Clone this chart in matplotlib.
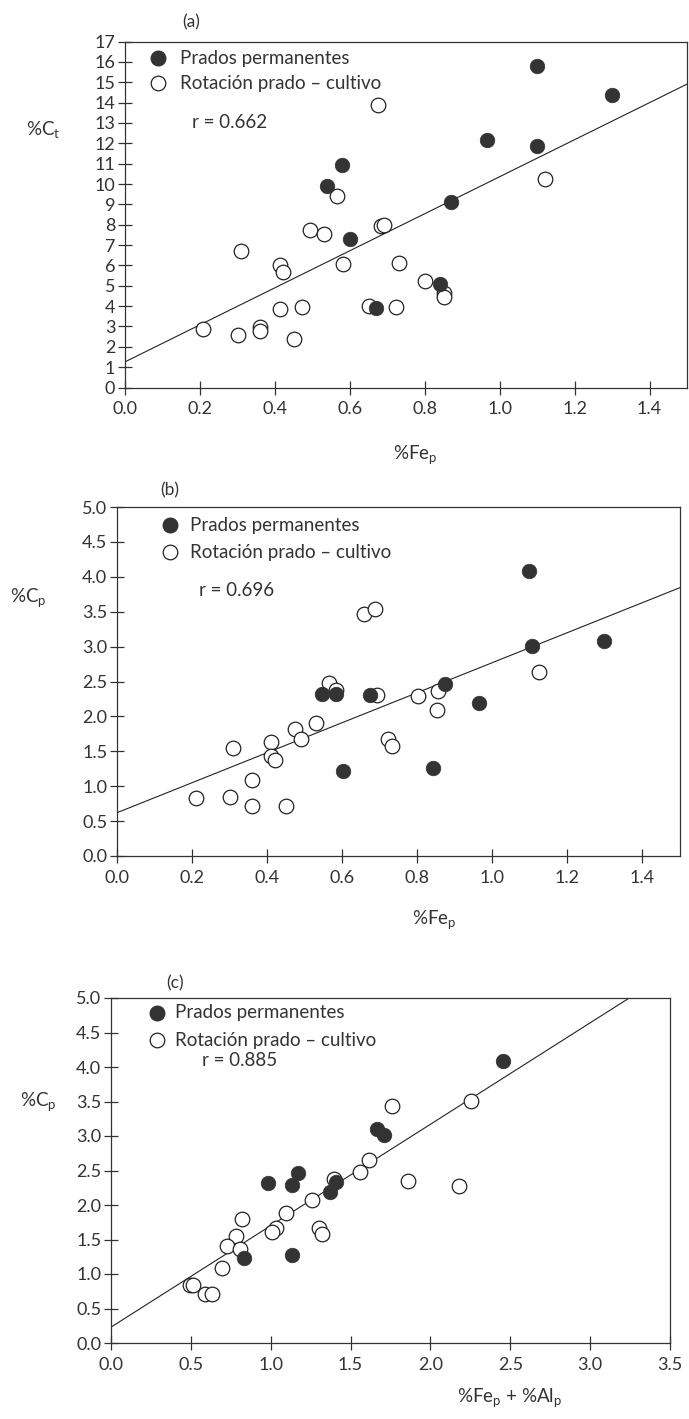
import matplotlib
matplotlib.use("Agg")
import matplotlib.pyplot as plt
import numpy as np

# ---------- data ----------
# Panel (a): %Fep vs %Ct
a_perm_x = [1.10, 1.30, 0.965, 1.10, 0.58, 0.54, 0.87, 0.60, 0.84, 0.67]
a_perm_y = [15.8, 14.4, 12.15, 11.85, 10.95, 9.9, 9.1, 7.3, 5.1, 3.9]
a_rot_x = [0.675, 1.12, 0.565, 0.31, 0.493, 0.532, 0.682, 0.692, 0.413, 0.421,
           0.583, 0.732, 0.801, 0.852, 0.852, 0.65, 0.723, 0.413, 0.472, 0.208,
           0.301, 0.361, 0.361, 0.45]
a_rot_y = [13.9, 10.25, 9.4, 6.7, 7.72, 7.54, 7.93, 7.97, 6.0, 5.7,
           6.07, 6.13, 5.21, 4.64, 4.46, 4.03, 3.98, 3.85, 3.98, 2.89,
           2.59, 2.95, 2.79, 2.36]
a_line = (1.26, 9.1)      # intercept, slope
a_r = "r = 0.662"

# Panel (b): %Fep vs %Cp
b_perm_x = [1.098, 1.107, 1.297, 0.873, 0.545, 0.583, 0.673, 0.965, 0.603, 0.842]
b_perm_y = [4.08, 3.01, 3.08, 2.46, 2.32, 2.32, 2.30, 2.19, 1.22, 1.26]
b_rot_x = [0.657, 0.687, 1.125, 0.565, 0.583, 0.693, 0.803, 0.855, 0.853, 0.53,
           0.473, 0.49, 0.722, 0.733, 0.41, 0.41, 0.42, 0.31, 0.36, 0.21,
           0.30, 0.36, 0.45]
b_rot_y = [3.47, 3.54, 2.64, 2.48, 2.38, 2.30, 2.29, 2.37, 2.09, 1.90,
           1.82, 1.68, 1.67, 1.58, 1.63, 1.43, 1.37, 1.55, 1.09, 0.83,
           0.85, 0.71, 0.71]
b_line = (0.62, 2.15)
b_r = "r = 0.696"

# Panel (c): %Fep + %Alp vs %Cp
c_perm_x = [2.452, 1.667, 1.711, 1.172, 0.985, 1.132, 1.406, 1.374, 0.835, 1.135]
c_perm_y = [4.09, 3.10, 3.02, 2.47, 2.32, 2.29, 2.33, 2.19, 1.23, 1.27]
c_rot_x = [1.758, 2.257, 1.617, 1.559, 1.397, 1.859, 2.18, 1.256, 1.097, 0.823,
           1.031, 1.01, 1.303, 1.32, 0.785, 0.727, 0.809, 0.694, 0.492, 0.511,
           0.586, 0.633]
c_rot_y = [3.44, 3.51, 2.65, 2.48, 2.38, 2.35, 2.27, 2.07, 1.88, 1.80,
           1.67, 1.61, 1.67, 1.58, 1.55, 1.41, 1.36, 1.09, 0.84, 0.84,
           0.71, 0.71]
c_line = (0.23, 1.47)
c_r = "r = 0.885"

legend_labels = ["Prados permanentes", "Rotación prado – cultivo"]

# ---------- style ----------
FONT = ["Lato", "DejaVu Sans"]
plt.rcParams['font.family'] = FONT
plt.rcParams['mathtext.fontset'] = 'custom'
plt.rcParams['mathtext.rm'] = 'Lato'
plt.rcParams['mathtext.it'] = 'Lato'
TXT = '#333333'
FILL = '#333333'
MS = 10.5
FS = 13.5

fig = plt.figure(figsize=(6.89, 14.19), dpi=100)

def panel(rect, px, py, rx, ry, line, xlim, ylim, xticks, yticks, yfmt, leg, rtxt):
    ax = fig.add_axes(rect)
    ax.set_xlim(*xlim)
    ax.set_ylim(*ylim)
    xs = np.array(xlim)
    ax.plot(xs, line[0] + line[1] * xs, color='#222222', lw=0.8, zorder=1)
    ax.plot(rx, ry, 'o', ms=MS, mfc='white', mec='#222222', mew=0.9, ls='none', zorder=2)
    ax.plot(px, py, 'o', ms=MS, mfc=FILL, mec=FILL, mew=0.5, ls='none', zorder=3)
    ax.set_xticks(xticks)
    ax.set_xticklabels(["%.1f" % v for v in xticks])
    ax.set_yticks(yticks)
    ax.set_yticklabels([yfmt % v for v in yticks])
    ax.tick_params(direction='inout', length=10, width=0.9, colors='#333333',
                   labelsize=13, labelcolor=TXT)
    ax.tick_params(axis='x', pad=5)
    ax.tick_params(axis='y', pad=2)
    for s in ax.spines.values():
        s.set_linewidth(0.9)
        s.set_color('#333333')
    # legend (manual placement)
    (mx, my1, my2, tx, rxp, ryp) = leg
    ax.plot([mx], [my1], 'o', ms=MS, mfc=FILL, mec=FILL, transform=ax.transAxes, clip_on=False)
    ax.plot([mx], [my2], 'o', ms=MS, mfc='white', mec='#222222', mew=0.9,
            transform=ax.transAxes, clip_on=False)
    ax.text(tx, my1, legend_labels[0], transform=ax.transAxes, va='center', ha='left',
            fontsize=FS, color=TXT)
    ax.text(tx, my2, legend_labels[1], transform=ax.transAxes, va='center', ha='left',
            fontsize=FS, color=TXT)
    ax.text(rxp, ryp, rtxt, transform=ax.transAxes, va='center', ha='left',
            fontsize=FS, color=TXT)
    return ax

W = 689.0; H = 1419.0
def rect(l, r, t, b):
    return [l / W, 1 - b / H, (r - l) / W, (b - t) / H]

panel(rect(125, 687, 41.6, 387.5), a_perm_x, a_perm_y, a_rot_x, a_rot_y, a_line,
      (0, 1.5), (0, 17), [0.0, 0.2, 0.4, 0.6, 0.8, 1.0, 1.2, 1.4], list(range(0, 18)), "%d",
      (0.059, 0.952, 0.880, 0.098, 0.119, 0.767), a_r)
panel(rect(117, 680, 507, 856), b_perm_x, b_perm_y, b_rot_x, b_rot_y, b_line,
      (0, 1.5), (0, 5), [0.0, 0.2, 0.4, 0.6, 0.8, 1.0, 1.2, 1.4],
      [i * 0.5 for i in range(11)], "%.1f",
      (0.094, 0.948, 0.871, 0.130, 0.146, 0.762), b_r)
panel(rect(111, 670, 998, 1343), c_perm_x, c_perm_y, c_rot_x, c_rot_y, c_line,
      (0, 3.5), (0, 5), [i * 0.5 for i in range(8)],
      [i * 0.5 for i in range(11)], "%.1f",
      (0.082, 0.957, 0.878, 0.114, 0.163, 0.820), c_r)

def ftxt(x, y, s, size=13.5):
    fig.text(x / W, 1 - y / H, s, ha='center', va='center', fontsize=size, color=TXT)

ftxt(191, 22, "(a)", 12.5)
ftxt(43, 130, r"%C$_\mathrm{t}$")
ftxt(415, 455, r"%Fe$_\mathrm{p}$")
ftxt(170, 490, "(b)", 12.5)
ftxt(28, 598, r"%C$_\mathrm{p}$")
ftxt(435, 920, r"%Fe$_\mathrm{p}$ ")
ftxt(175, 983, "(c)", 12.5)
ftxt(38, 1102, r"%C$_\mathrm{p}$")
ftxt(510, 1398, r"%Fe$_\mathrm{p}$ + %Al$_\mathrm{p}$")

fig.savefig("out.png", dpi=100)
